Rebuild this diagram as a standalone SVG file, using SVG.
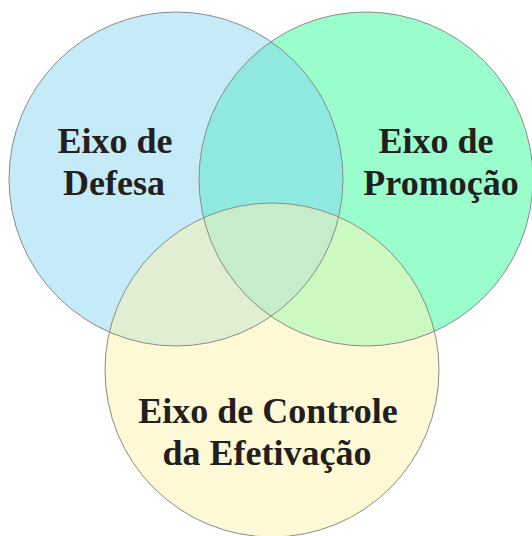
<svg xmlns="http://www.w3.org/2000/svg" width="532" height="536" viewBox="0 0 532 536">
<style>
.c{stroke:#8a8a8a;stroke-width:1;fill:none}
.t{font-family:"Liberation Serif","Times New Roman",serif;font-weight:bold;font-size:36px;fill:#231F20;text-anchor:middle}
</style>
<defs>
<clipPath id="clipL"><circle cx="176" cy="179" r="167"/></clipPath>
<clipPath id="clipR"><circle cx="366" cy="179" r="167"/></clipPath>
</defs>
<rect width="532" height="536" fill="#fff"/>
<g id="defesa">
<circle cx="176" cy="179" r="167" fill="#C5EAF8"/>
</g>
<g id="promocao">
<circle cx="366" cy="179" r="167" fill="#99FECC"/>
<circle cx="366" cy="179" r="167" fill="#8FE9DF" clip-path="url(#clipL)"/>
</g>
<g id="controle">
<circle cx="272" cy="370" r="167" fill="#FFFAD5"/>
<circle cx="272" cy="370" r="167" fill="#E0EED2" clip-path="url(#clipL)"/>
<circle cx="272" cy="370" r="167" fill="#CCF9C0" clip-path="url(#clipR)"/>
<g clip-path="url(#clipL)"><circle cx="272" cy="370" r="167" fill="#C6EDCA" clip-path="url(#clipR)"/></g>
</g>
<g id="outlines">
<circle class="c" cx="176" cy="179" r="167"/>
<circle class="c" cx="366" cy="179" r="167"/>
<circle class="c" cx="272" cy="370" r="167"/>
</g>
<g id="labels">
<text class="t" x="115" y="153">Eixo de</text>
<text class="t" x="114" y="195">Defesa</text>
<text class="t" x="436" y="153">Eixo de</text>
<text class="t" x="441" y="195">Promoção</text>
<text class="t" x="268" y="423">Eixo de Controle</text>
<text class="t" x="267" y="465">da Efetivação</text>
</g>
</svg>
